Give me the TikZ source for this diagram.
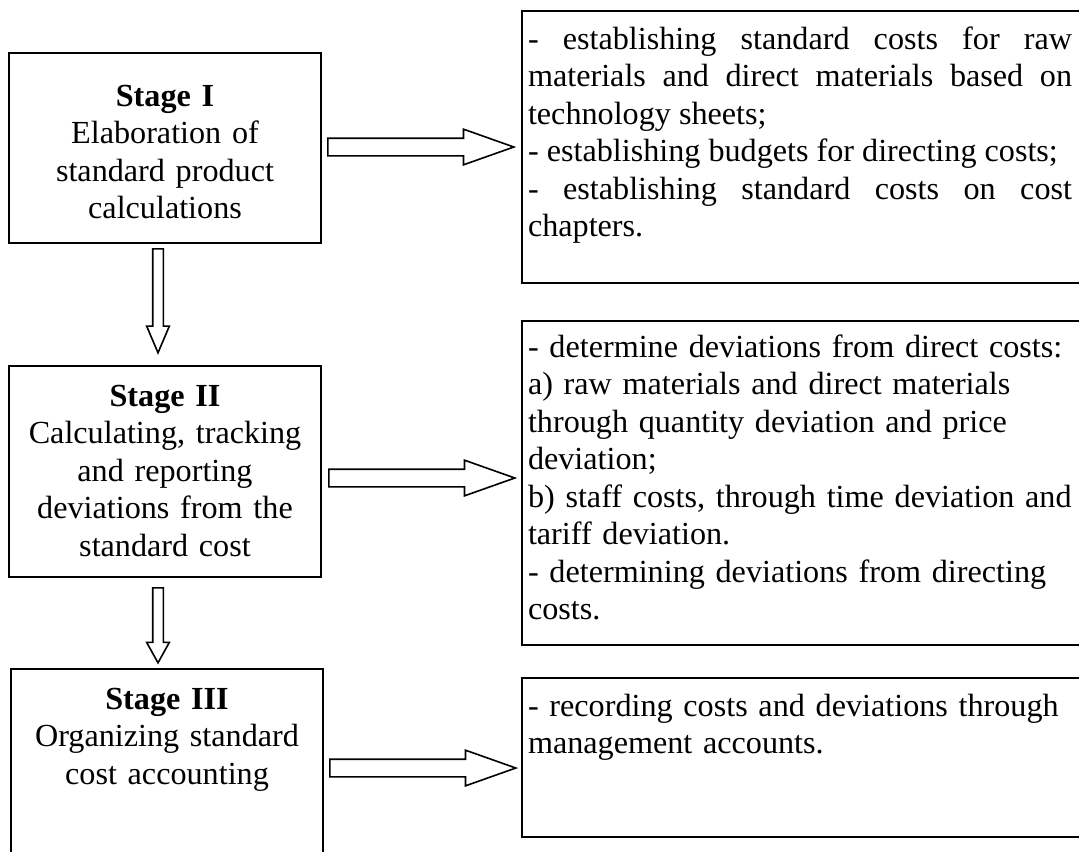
\documentclass[tikz,border=0pt]{standalone}
\usepackage{fontspec}
\setmainfont{Liberation Serif}
\usetikzlibrary{shapes.arrows}
\newdimen\pxu \pxu=0.373pt
\tikzset{
	stagebox/.style={draw, line width=0.75pt, anchor=north west, align=center, text width=300\pxu, inner xsep=6\pxu, inner ysep=0pt, font=\fontsize{12}{14}\selectfont},
	notebox/.style={draw, line width=0.75pt, anchor=north west, align=left, text width=580\pxu, inner xsep=6\pxu, inner ysep=0pt, font=\fontsize{12}{14}\selectfont},
	harrow/.style={single arrow, draw, line width=0.6pt, inner xsep=0pt, inner ysep=8\pxu, anchor=tail, minimum height=186\pxu, single arrow head extend=9\pxu, single arrow tip angle=39},
	varrow/.style={single arrow, draw, line width=0.6pt, inner xsep=0pt, inner ysep=4.5\pxu, anchor=tail, rotate=-90, single arrow head extend=6\pxu}
}
\begin{document}
\begin{tikzpicture}[x=0.373pt, y=-0.373pt]
		%%%%% START %%%%%
		\useasboundingbox (0, 0) rectangle (1079, 851);
		\clip (0, 0) rectangle (1079, 851);
		
		% stages
		\node[stagebox, text height=53\pxu, text depth=137\pxu] (s1) at (8, 52) {\textbf{Stage I}\\Elaboration of\\standard product\\calculations};
		\node[stagebox, text height=40\pxu, text depth=171\pxu] (s2) at (8, 365) {\textbf{Stage II}\\Calculating, tracking\\and reporting\\deviations from the\\standard cost};
		\node[stagebox, text height=40\pxu, text depth=173\pxu] (s3) at (10, 668) {\textbf{Stage III}\\Organizing standard\\cost accounting};
		
		% what each stage covers (first one justified)
		\node[notebox, align=justify, text height=38\pxu, text depth=234\pxu] (r1) at (521, 10) {\parbox[t]{544\pxu}{- establishing standard costs for raw\linebreak materials and direct materials based on\linebreak technology sheets;\\- establishing budgets for directing costs;\\- establishing standard costs on cost\linebreak chapters.}};
		\node[notebox, text height=36\pxu, text depth=288\pxu] (r2) at (521, 320) {- determine deviations from direct costs:\\a) raw materials and direct materials\\through quantity deviation and price\\deviation;\\b) staff costs, through time deviation and\\tariff deviation.\\- determining deviations from directing\\costs.};
		\node[notebox, text height=38\pxu, text depth=121\pxu] (r3) at (521, 677) {- recording costs and deviations through\\management accounts.};
		
		% block arrows
		\node[harrow] (a1) at (327, 147) {};
		\node[harrow] (a2) at (328, 478) {};
		\node[harrow] (a3) at (329, 768) {};
		\node[varrow, minimum height=104\pxu, single arrow tip angle=46] (d1) at (158, 248) {};
		\node[varrow, minimum height=75\pxu, single arrow tip angle=58] (d2) at (158, 587) {};
		%%%%% END %%%%%
\end{tikzpicture}
\end{document}
